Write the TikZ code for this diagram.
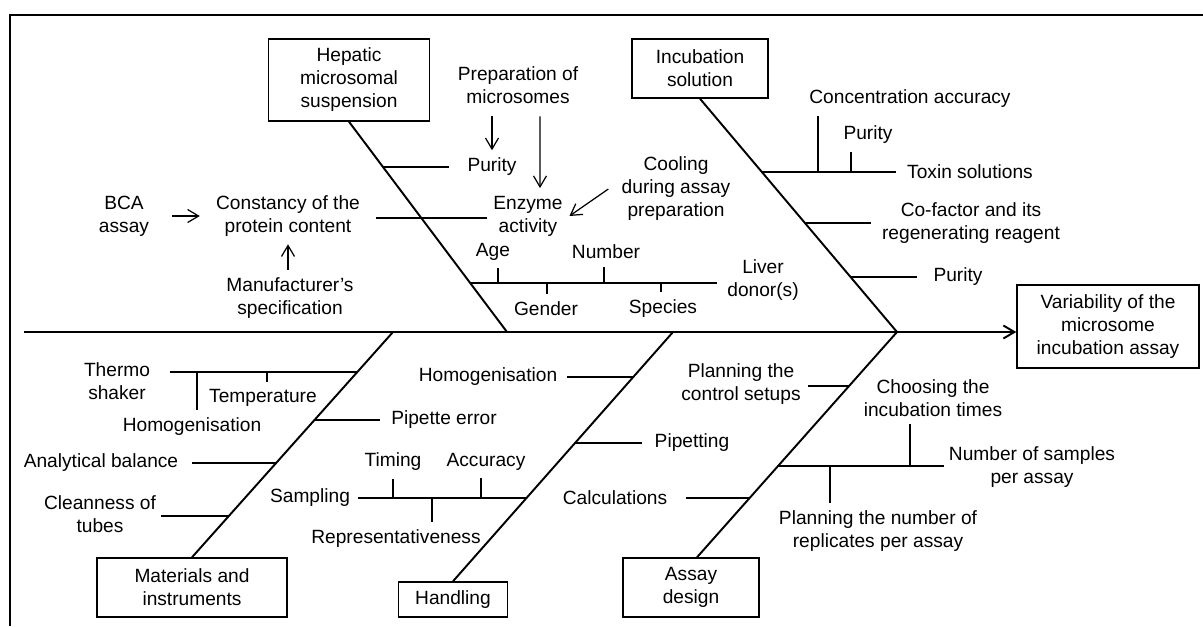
\documentclass[tikz,border=0pt]{standalone}
\usepackage{fontspec}
\setmainfont{Liberation Sans}
\usetikzlibrary{arrows.meta}

\begin{document}
\begin{tikzpicture}[x=0.02cm, y=-0.02cm,
	every node/.style={font=\fontsize{10.9}{13.1}\selectfont},
	cause/.style={draw, line width=0.85pt, align=center, inner sep=0pt},
	lbl/.style={align=center, inner xsep=0.26cm, inner ysep=0.15cm},
	bone/.style={line width=1.1pt},
	arr/.style={line width=0.7pt, -{Straight Barb[length=2.2mm,width=2.6mm]}}]
	\useasboundingbox (0,0) rectangle (1203,626);
	\draw[line width=1.1pt] (10,626) -- (10,15) -- (1203,15);

	% main causes and effect
	\node[cause, minimum width=3.22cm, minimum height=1.64cm] (hep) at (349,80) {Hepatic\\microsomal\\suspension};
	\node[cause, minimum width=2.72cm, minimum height=1.18cm] (inc) at (700,68.5) {Incubation\\solution};
	\node[cause, minimum width=3.64cm, minimum height=1.66cm] (var) at (1108,326.5) {Variability of the\\microsome\\incubation assay};
	\node[cause, minimum width=3.8cm, minimum height=1.18cm] (mat) at (192,587.5) {Materials and\\instruments};
	\node[cause, minimum width=2.18cm, minimum height=0.7cm] (hand) at (453,599.5) {Handling};
	\node[cause, minimum width=2.72cm, minimum height=1.18cm] (des) at (691,587.5) {Assay\\design};

	% spine and bones
	\coordinate (s0) at (24,332);
	\coordinate (jA) at (507,332);
	\coordinate (jB) at (897,332);
	\coordinate (jC) at (393,332);
	\coordinate (jD) at (673,332);
	\draw[bone, -{Straight Barb[length=2.2mm,width=2.6mm]}] (s0) -- (s0 -| var.west);
	\draw[bone] (hep.south) -- (jA);
	\draw[bone] (inc.south) -- (jB);
	\draw[bone] (mat.north) -- (jC);
	\draw[bone] (hand.north) -- (jD);
	\draw[bone] ([xshift=0.12cm]des.north) -- (jB);

	% hepatic microsomal suspension
	\node[lbl, inner xsep=0.37cm] (pur1) at (492,167) {Purity};
	\node[lbl, inner xsep=0.32cm] (prot) at (288,216) {Constancy of the\\protein content};
	\node[lbl] (bca) at (124,216) {BCA\\assay};
	\node[lbl] (manu) at (290,298) {Manufacturer’s\\specification};
	\node[lbl] (prep) at (518,85) {Preparation of\\microsomes};
	\node[lbl, inner xsep=0.13cm] (enz) at (528,216) {Enzyme\\activity};
	\node[lbl] (cool) at (676,189) {Cooling\\during assay\\preparation};
	\node[lbl] (age) at (493,252) {Age};
	\node[lbl] (num) at (606,252) {Number};
	\node[lbl] (gen) at (546,309) {Gender};
	\node[lbl] (spec) at (663,309) {Species};
	\node[lbl, inner xsep=0.2cm] (donor) at (763,280) {Liver\\donor(s)};
	\coordinate (a1) at (383.4,167);
	\coordinate (a2) at (421.6,218);
	\coordinate (a3) at (470.3,283);
	\coordinate (tAge) at (498,283);
	\coordinate (tNum) at (604,283);
	\coordinate (tGen) at (547,283);
	\coordinate (tSpe) at (661,283);
	\draw[bone] (a1) -- (a1 -| pur1.west);
	\draw[bone] (a2 -| prot.east) -- (a2 -| enz.west);
	\draw[bone] (a3) -- (a3 -| donor.west);
	\draw[bone] (tAge) -- (tAge |- age.south);
	\draw[bone] (tNum) -- (tNum |- num.south);
	\draw[bone] (tGen) -- (tGen |- gen.north);
	\draw[bone] (tSpe) -- (tSpe |- spec.north);
	\draw[arr, shorten <=0.2cm] (bca.east) -- (bca.east -| prot.west);
	\draw[arr] (prot.south |- manu.north) -- (prot.south);
	\draw[arr, shorten <=0.1cm] (pur1.north |- prep.south) -- (pur1.north);
	\draw[arr, shorten <=0.1cm] ([xshift=0.44cm]prep.south) -- ([xshift=0.24cm]enz.north);
	\draw[arr] (cool.west) -- (enz.east);

	% incubation solution
	\node[lbl] (conc) at (910,99) {Concentration accuracy};
	\node[lbl] (pur2) at (868,135) {Purity};
	\node[lbl, inner xsep=0.22cm] (tox) at (970,172) {Toxin solutions};
	\node[lbl, inner xsep=0.22cm] (cof) at (971,223) {Co-factor and its\\regenerating reagent};
	\node[lbl, inner xsep=0.33cm] (pur3) at (958,277) {Purity};
	\coordinate (b1) at (762.3,172);
	\coordinate (b2) at (805.2,223);
	\coordinate (b3) at (850.7,277);
	\coordinate (tCon) at (818,172);
	\coordinate (tPur) at (851,172);
	\draw[bone] (b1) -- (b1 -| tox.west);
	\draw[bone] (b2) -- (b2 -| cof.west);
	\draw[bone] (b3) -- (b3 -| pur3.west);
	\draw[bone] (tCon) -- (tCon |- conc.south);
	\draw[bone] (tPur) -- (tPur |- pur2.south);

	% materials and instruments
	\node[lbl, inner xsep=0.4cm] (thermo) at (117,381) {Thermo\\shaker};
	\node[lbl] (temp) at (263,398) {Temperature};
	\node[lbl] (homo1) at (192,427) {Homogenisation};
	\node[lbl, inner xsep=0.22cm] (pip) at (444,420) {Pipette error};
	\node[lbl] (bal) at (101,463) {Analytical balance};
	\node[lbl, inner xsep=0.1cm] (clean) at (100,514) {Cleanness of\\tubes};
	\coordinate (c1) at (357.4,372);
	\coordinate (c2) at (314.7,420);
	\coordinate (c3) at (276.5,463);
	\coordinate (c4) at (229.3,516);
	\coordinate (tTem) at (267,372);
	\coordinate (tHom) at (197,372);
	\draw[bone] (c1) -- (c1 -| thermo.east);
	\draw[bone] (c2) -- (c2 -| pip.west);
	\draw[bone] (c3) -- (c3 -| bal.east);
	\draw[bone] (c4) -- (c4 -| clean.east);
	\draw[bone] (tTem) -- (tTem |- temp.north);
	\draw[bone] (tHom) -- (tHom |- homo1.north);

	% handling
	\node[lbl, inner xsep=0.18cm] (homo2) at (488,377) {Homogenisation};
	\node[lbl, inner xsep=0.24cm] (pipt) at (692,443) {Pipetting};
	\node[lbl, inner xsep=0.16cm] (samp) at (310,498) {Sampling};
	\node[lbl] (tim) at (393,462) {Timing};
	\node[lbl] (acc) at (486,462) {Accuracy};
	\node[lbl] (rep) at (396,539) {Representativeness};
	\coordinate (d1) at (633.4,377);
	\coordinate (d2) at (575.3,443);
	\coordinate (d3) at (526.9,498);
	\coordinate (tTim) at (393,498);
	\coordinate (tAcc) at (481,498);
	\coordinate (tRep) at (432,498);
	\draw[bone] (d1) -- (d1 -| homo2.east);
	\draw[bone] (d2) -- (d2 -| pipt.west);
	\draw[bone] (d3) -- (d3 -| samp.east);
	\draw[bone] (tTim) -- (tTim |- tim.south);
	\draw[bone] (tAcc) -- (tAcc |- acc.south);
	\draw[bone] (tRep) -- (tRep |- rep.north);

	% assay design
	\node[lbl, inner xsep=0.15cm] (ctrl) at (741,384) {Planning the\\control setups};
	\node[lbl] (choo) at (933,398) {Choosing the\\incubation times};
	\node[lbl, inner xsep=0.1cm] (nsam) at (1032,467) {Number of samples\\per assay};
	\node[lbl] (repl) at (878,531) {Planning the number of\\replicates per assay};
	\node[lbl, inner xsep=0.36cm] (calc) at (615,498) {Calculations};
	\coordinate (e1) at (849.2,386);
	\coordinate (e2) at (778.4,466);
	\coordinate (e3) at (750.1,498);
	\coordinate (tCho) at (910,466);
	\coordinate (tRpl) at (830,466);
	\draw[bone] (e1) -- (e1 -| ctrl.east);
	\draw[bone] (e2) -- (e2 -| nsam.west);
	\draw[bone] (e3) -- (e3 -| calc.east);
	\draw[bone] (tCho) -- (tCho |- choo.south);
	\draw[bone] (tRpl) -- (tRpl |- repl.north);
\end{tikzpicture}
\end{document}
